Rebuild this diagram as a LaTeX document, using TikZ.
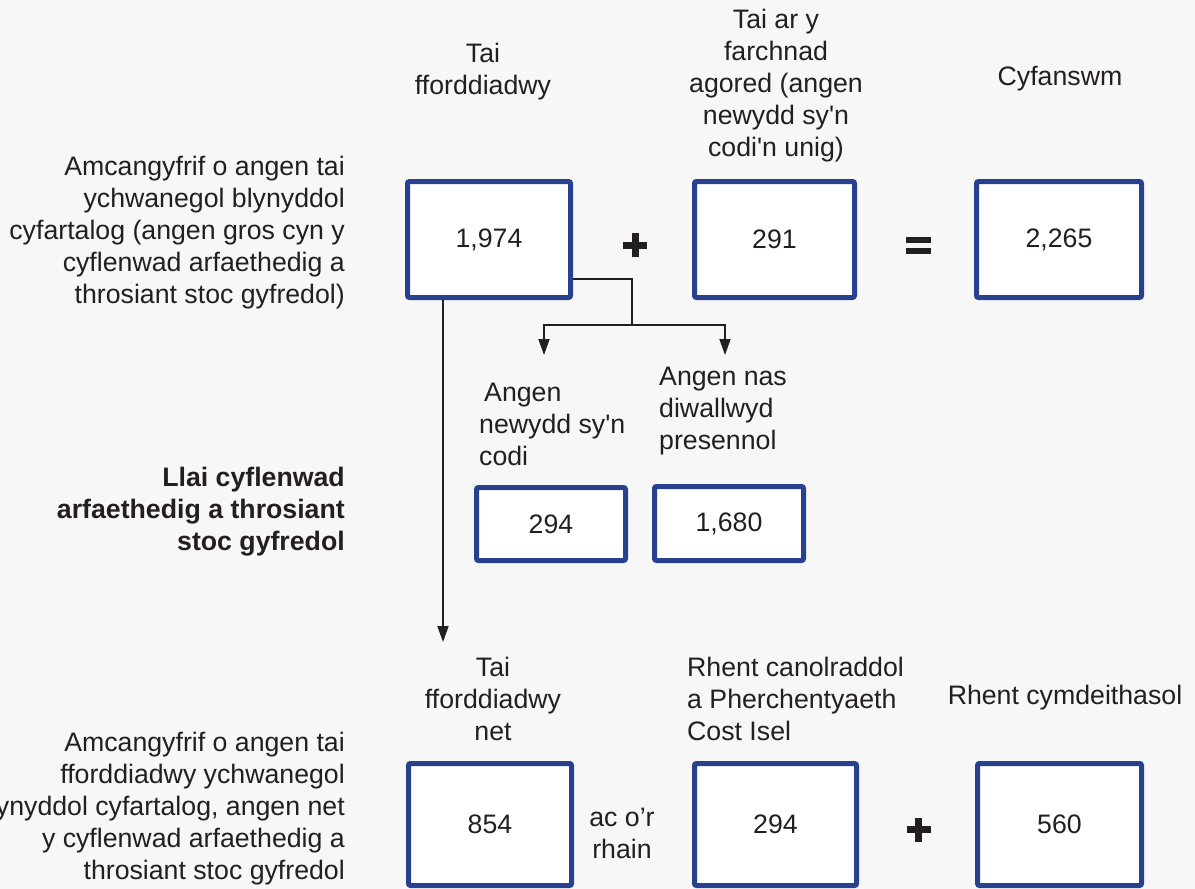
\documentclass[tikz,border=0pt]{standalone}
\usepackage{fontspec}
\newfontfamily\lsans{Liberation Sans}
\usetikzlibrary{arrows.meta}
\definecolor{boxblue}{HTML}{27418F}
\definecolor{ink}{HTML}{231F20}
\definecolor{bgc}{HTML}{F7F7F7}
\begin{document}
\begin{tikzpicture}[x=1pt,y=-1pt,
 every node/.style={font=\lsans\fontsize{26.7}{32}\selectfont, text=ink, inner sep=0pt},
 boldtxt/.style={font=\lsans\bfseries\fontsize{26.7}{32}\selectfont},
 numbox/.style={draw=boxblue, line width=5pt, fill=white, rounded corners=2pt, inner sep=0pt},
 conn/.style={draw=ink, line width=1.8pt},
 arr/.style={conn, -{Triangle[width=11pt,length=16pt]}},
 sym/.style={fill=ink}]
\useasboundingbox (0,0) rectangle (1195,889);
\clip (0,0) rectangle (1195,889);
\fill[bgc] (0,0) rectangle (1195,889);

% connectors
\coordinate (jn) at (632,325);
\coordinate (tipA) at (544,355);
\coordinate (tipB) at (725,355);
\coordinate (tipC) at (443,642);

% top boxes
\node[numbox, minimum width=163pt, minimum height=116pt] (b1) at (489,239.5) {1,974};
\node[numbox, minimum width=160pt, minimum height=116pt] (b2) at (774.5,239.5) {291};
\node[numbox, minimum width=165pt, minimum height=116pt] (b3) at (1059,239.5) {2,265};

\draw[conn] ([yshift=21pt]b1.south east) -| (jn);
\draw[arr] (jn) -| (tipA);
\draw[arr] (jn) -| (tipB);
\draw[arr] (b1.south -| tipC) -- (tipC);

% small boxes
\node[numbox, minimum width=149pt, minimum height=73pt] (s1b) at (551,524) {294};
\node[numbox, minimum width=149pt, minimum height=74pt] (s2b) at (729,523.5) {1,680};

% bottom boxes
\node[numbox, minimum width=163pt, minimum height=122pt] (n1) at (490,824.5) {854};
\node[numbox, minimum width=162pt, minimum height=122pt] (n2) at (775.5,824.5) {294};
\node[numbox, minimum width=164pt, minimum height=122pt] (n3) at (1059.5,824.5) {560};

% symbols
\fill[sym] (623,241.5) rectangle (647,248.5);
\fill[sym] (631.5,233) rectangle (638.5,257);
\fill[sym] (906,237) rectangle (931,243);
\fill[sym] (906,248) rectangle (931,254);
\fill[sym] (906.5,826) rectangle (930.5,833);
\fill[sym] (915,817.5) rectangle (922,841.5);

% texts
\node[anchor=east, align=right] (q1) at (345,233) {Amcangyfrif o angen tai\\ychwanegol blynyddol\\cyfartalog (angen gros cyn y\\cyflenwad arfaethedig a\\throsiant stoc gyfredol)};
\node[align=center] (h1) at (483,72) {Tai\\fforddiadwy};
\node[align=center] (h2) at (776,86) {Tai ar y\\farchnad\\agored (angen\\newydd sy'n\\codi'n unig)};
\node (h3) at (1060,79) {Cyfanswm};
\node[anchor=west, align=left] (s1) at (479,424) {\hspace*{5pt}Angen\\newydd sy'n\\codi};
\node[anchor=west, align=left] (s2) at (659,411.5) {Angen nas\\diwallwyd\\presennol};
\node[anchor=east, align=right, boldtxt] (q2) at (345,511.5) {Llai cyflenwad\\arfaethedig a throsiant\\stoc gyfredol};
\node[align=center] (l1) at (493,699) {Tai\\fforddiadwy\\net};
\node[anchor=west, align=left] (l2) at (687,698.5) {Rhent canolraddol\\a Pherchentyaeth\\Cost Isel};
\node (l3) at (1065,698) {Rhent cymdeithasol};
\node[anchor=east, align=right] (q3) at (345,808.5) {Amcangyfrif o angen tai\\fforddiadwy ychwanegol\\blynyddol cyfartalog, angen net\\y cyflenwad arfaethedig a\\throsiant stoc gyfredol};
\node[align=center] (acor) at (622,833.5) {ac o’r\\rhain};
\end{tikzpicture}
\end{document}
